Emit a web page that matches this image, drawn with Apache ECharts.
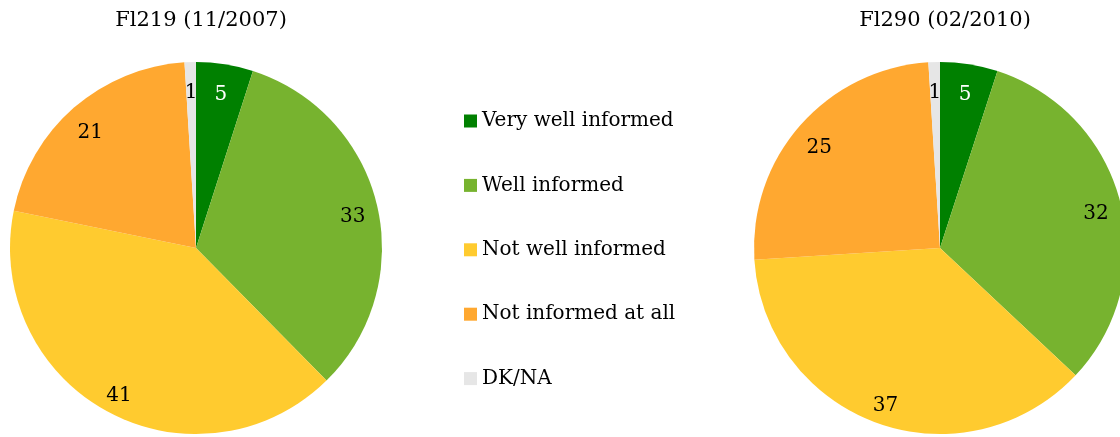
<!DOCTYPE html>
<html>
<head>
<meta charset="utf-8">
<script src="https://cdn.jsdelivr.net/npm/echarts@6/dist/echarts.min.js"></script>
<style>
  html, body { margin: 0; padding: 0; background: #fff; }
  #chart { width: 1120px; height: 437px; }
</style>
</head>
<body>
<div id="chart"></div>
<script>
// categories and values
const categories = ['Very well informed', 'Well informed', 'Not well informed', 'Not informed at all', 'DK/NA']
const colors = ['#008000', '#77b32f', '#ffcb2f', '#ffa830', '#e6e6e6']
const labelColors = ['#fff', '#000', '#000', '#000', '#000']
const titles = ['Fl219 (11/2007)', 'Fl290 (02/2010)']
const fl219 = [5, 33, 41, 21, 1]
const fl290 = [5, 32, 37, 25, 1]

const font = 'DejaVu Serif'
const R = 186
const centers = [[196, 248], [940, 248]]

function pieData(values, withLabels) {
  return values.map((v, i) => ({
    name: categories[i],
    value: v,
    itemStyle: withLabels ? { color: 'transparent' } : { color: colors[i] },
    label: { color: labelColors[i] }
  }))
}

const chart = echarts.init(document.getElementById('chart'))
const sets = [fl219, fl290]

const series = []
// slices
sets.forEach((vals, k) => {
  series.push({
    type: 'pie',
    center: centers[k],
    radius: [0, R],
    startAngle: 90,
    clockwise: true,
    silent: true,
    label: { show: false },
    labelLine: { show: false },
    data: pieData(vals, false)
  })
})
// labels near the rim (inside label sits at mid of ring)
sets.forEach((vals, k) => {
  series.push({
    type: 'pie',
    center: centers[k],
    radius: [R * 0.7, R],
    startAngle: 90,
    clockwise: true,
    silent: true,
    label: { show: true, position: 'inside', fontFamily: font, fontSize: 20, formatter: '{c}', offset: [0, 6] },
    labelLine: { show: false },
    data: pieData(vals, true)
  })
})

chart.setOption({
  animation: false,
  color: colors,
  title: titles.map((t, k) => ({
    text: t,
    left: centers[k][0],
    textAlign: 'center',
    top: 5,
    textStyle: { fontFamily: font, fontSize: 21, fontWeight: 'normal', color: '#000' }
  })),
  legend: {
    orient: 'vertical',
    left: 459,
    top: 106,
    itemWidth: 13,
    itemHeight: 13,
    itemGap: 44.4,
    icon: 'rect',
    data: categories,
    textStyle: { fontFamily: font, fontSize: 20, color: '#000' }
  },
  series: series
})
</script>
</body>
</html>
